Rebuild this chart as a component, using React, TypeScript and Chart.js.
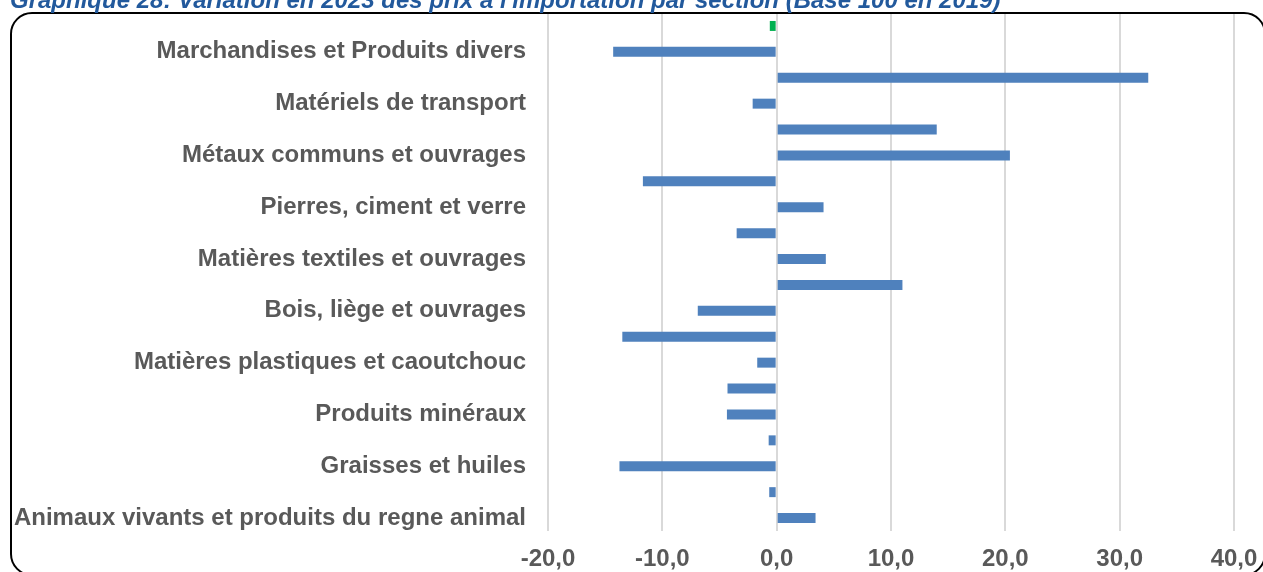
import React, { useEffect, useRef } from "react";
import { Chart, registerables } from "chart.js";

Chart.register(...registerables);

const TITLE =
  "Graphique 28: Variation en 2023 des prix à l'importation par section (Base 100 en 2019)";

// Categories, top to bottom
const categories = [
  "Ensemble",
  "Marchandises et Produits divers",
  "Instruments d'optique et de précision",
  "Matériels de transport",
  "Machines et appareils",
  "Métaux communs et ouvrages",
  "Perles fines et métaux précieux",
  "Pierres, ciment et verre",
  "Chaussures et coiffures",
  "Matières textiles et ouvrages",
  "Pâtes de bois et papier",
  "Bois, liège et ouvrages",
  "Peaux et cuirs",
  "Matières plastiques et caoutchouc",
  "Produits des industries chimiques",
  "Produits minéraux",
  "Produits des industries alimentaires",
  "Graisses et huiles",
  "Produits du règne végétal",
  "Animaux vivants et produits du regne animal",
];

// Variation 2023 (%)
const variations = [
  -0.6, -14.3, 32.5, -2.1, 14.0, 20.4, -11.7, 4.1, -3.5, 4.3, 11.0, -6.9, -13.5,
  -1.7, -4.3, -4.35, -0.7, -13.75, -0.65, 3.4,
];

const xTicks = [-20, -10, 0, 10, 20, 30, 40];
const highlightedCategory = "Ensemble";

const FONT = "'Liberation Sans', Arial, sans-serif";

export default function App() {
  const canvasRef = useRef<HTMLCanvasElement | null>(null);

  useEffect(() => {
    if (!canvasRef.current) return;
    const chart = new Chart(canvasRef.current, {
      type: "bar",
      data: {
        labels: categories,
        datasets: [
          {
            data: variations,
            backgroundColor: (ctx: any) =>
              categories[ctx.dataIndex] === highlightedCategory ? "#00B050" : "#4F81BD",
            borderWidth: 0,
            barPercentage: 0.385,
            categoryPercentage: 1,
          },
        ],
      },
      options: {
        indexAxis: "y",
        animation: false,
        responsive: false,
        devicePixelRatio: 1,
        layout: { padding: { top: 13, right: 29, left: 0, bottom: 0 } },
        plugins: {
          legend: { display: false },
          title: { display: false },
          tooltip: { enabled: false },
        },
        scales: {
          x: {
            min: xTicks[0],
            max: xTicks[xTicks.length - 1],
            afterBuildTicks: (scale: any) => {
              scale.ticks = xTicks.map((v) => ({ value: v }));
            },
            afterFit: (scale: any) => {
              scale.height = 41;
              scale.paddingLeft = 0;
              scale.paddingRight = 0;
              scale.paddingTop = 0;
              scale.paddingBottom = 0;
            },
            grid: { display: true, color: "#D9D9D9", lineWidth: 2, drawTicks: false },
            border: { display: false },
            ticks: {
              padding: 14,
              color: "#595959",
              font: { family: FONT, size: 24, weight: "bold" },
              callback: (v: any) => Number(v).toFixed(1).replace(".", ","),
              maxRotation: 0,
              autoSkip: false,
            },
          },
          y: {
            afterFit: (scale: any) => {
              scale.width = 548;
              scale.paddingLeft = 0;
              scale.paddingRight = 0;
              scale.paddingTop = 0;
              scale.paddingBottom = 0;
            },
            grid: { display: false, drawTicks: false },
            border: { display: false },
            ticks: {
              padding: 22,
              autoSkip: false,
              color: "#595959",
              font: { family: FONT, size: 24, weight: "bold" },
              callback: (_v: any, i: number) => (i % 2 === 1 ? categories[i] : ""),
            },
          },
        },
      },
    } as any);
    return () => chart.destroy();
  }, []);

  return (
    <div
      style={{
        position: "absolute",
        left: 0,
        top: 0,
        width: 1263,
        height: 572,
        overflow: "hidden",
        background: "#FFFFFF",
      }}
    >
      <canvas
        ref={canvasRef}
        width={1263}
        height={572}
        style={{ position: "absolute", left: 0, top: 0, width: 1263, height: 572 }}
      />
      <div
        style={{
          position: "absolute",
          left: 10,
          top: 12,
          width: 1256,
          height: 564,
          boxSizing: "border-box",
          border: "2.5px solid #000000",
          borderRadius: 22,
          pointerEvents: "none",
        }}
      />
      <div
        style={{
          position: "absolute",
          left: 10,
          top: -12,
          whiteSpace: "nowrap",
          fontFamily: FONT,
          fontStyle: "italic",
          fontWeight: "bold",
          fontSize: 24,
          lineHeight: "24px",
          color: "#22599C",
        }}
      >
        {TITLE}
      </div>
    </div>
  );
}
